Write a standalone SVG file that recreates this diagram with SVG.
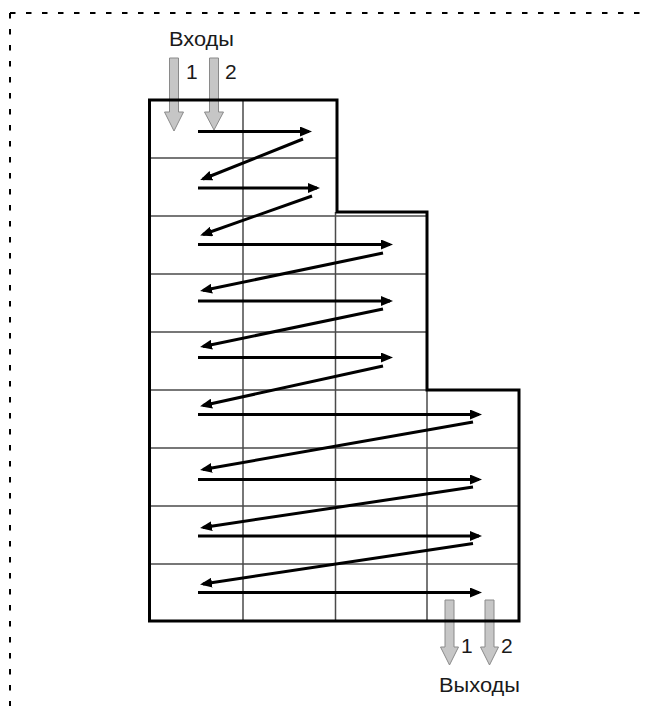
<svg xmlns="http://www.w3.org/2000/svg" width="657" height="706" viewBox="0 0 657 706">
<style>
.frame{fill:none;stroke:#000;stroke-width:2;stroke-dasharray:5.5 10.5}
.grid{fill:none;stroke:#4a4a4a;stroke-width:1.5}
.outline{fill:none;stroke:#000;stroke-width:3;stroke-linejoin:miter}
.flow{fill:none;stroke:#000;stroke-width:3}
.port{fill:#c6c6c6;stroke:#8a8a8a;stroke-width:1}
.lbl{font-family:"Liberation Sans",Arial,sans-serif;fill:#1a1a1a}
.word{font-size:20px}
.num{font-size:21px}
</style>
<defs>
<marker id="ah" markerUnits="userSpaceOnUse" markerWidth="13" markerHeight="10" refX="9" refY="5" orient="auto">
<path d="M0,0 L12,5 L0,10 z" fill="#000"/>
</marker>
</defs>
<rect width="657" height="706" fill="#fff"/>
<g id="frame">
<line class="frame" x1="10" y1="13" x2="648" y2="13"/>
<line class="frame" x1="10" y1="13" x2="10" y2="706"/>
</g>
<g id="vessel">
<g id="grid">
<line class="grid" x1="243" y1="100" x2="243" y2="621"/>
<line class="grid" x1="335.5" y1="212" x2="335.5" y2="621"/>
<line class="grid" x1="427" y1="390" x2="427" y2="621"/>
<line class="grid" x1="149.5" y1="158" x2="337" y2="158"/>
<line class="grid" x1="149.5" y1="216" x2="426" y2="216"/>
<line class="grid" x1="149.5" y1="274" x2="426" y2="274"/>
<line class="grid" x1="149.5" y1="332" x2="426" y2="332"/>
<line class="grid" x1="149.5" y1="390" x2="519" y2="390"/>
<line class="grid" x1="149.5" y1="448" x2="519" y2="448"/>
<line class="grid" x1="149.5" y1="506" x2="519" y2="506"/>
<line class="grid" x1="149.5" y1="564" x2="519" y2="564"/>
</g>
</g>
<g id="inputs">
<path class="port" d="M169.5,58 H178.5 V112 H183.5 L174,131 L164.5,112 H169.5 Z"/>
<path class="port" d="M209.5,58 H218.5 V112 H223.5 L214,130 L204.5,112 H209.5 Z"/>
<text class="lbl word" x="169" y="46" textLength="65" lengthAdjust="spacingAndGlyphs">Входы</text>
<text class="lbl num" x="186" y="79">1</text>
<text class="lbl num" x="225" y="79">2</text>
</g>
<g id="outputs">
<path class="port" d="M445,600 H454 V647 H458.5 L449.5,665 L440.5,647 H445 Z"/>
<path class="port" d="M485,600 H494 V647 H498.5 L489.5,665 L480.5,647 H485 Z"/>
<text class="lbl num" x="461" y="653">1</text>
<text class="lbl num" x="501" y="653">2</text>
<text class="lbl word" x="439" y="692" textLength="81" lengthAdjust="spacingAndGlyphs">Выходы</text>
</g>
<path id="outline" class="outline" d="M149.5,100 H337 V212 H427 V390 H519 V621 H149.5 Z"/>
<g id="connectors">
<line class="flow" x1="198" y1="131.5" x2="309" y2="131.5" marker-end="url(#ah)"/>
<line class="flow" x1="303" y1="139" x2="203" y2="179" marker-end="url(#ah)"/>
<line class="flow" x1="198" y1="188" x2="317" y2="188" marker-end="url(#ah)"/>
<line class="flow" x1="312" y1="196" x2="203" y2="234.5" marker-end="url(#ah)"/>
<line class="flow" x1="198" y1="244.5" x2="390" y2="244.5" marker-end="url(#ah)"/>
<line class="flow" x1="383" y1="253" x2="203" y2="290.5" marker-end="url(#ah)"/>
<line class="flow" x1="198" y1="301" x2="390" y2="301" marker-end="url(#ah)"/>
<line class="flow" x1="383" y1="309" x2="203" y2="346.5" marker-end="url(#ah)"/>
<line class="flow" x1="198" y1="357.5" x2="390" y2="357.5" marker-end="url(#ah)"/>
<line class="flow" x1="383" y1="366" x2="203" y2="405.5" marker-end="url(#ah)"/>
<line class="flow" x1="198" y1="414.5" x2="479" y2="414.5" marker-end="url(#ah)"/>
<line class="flow" x1="473" y1="422" x2="203" y2="469.5" marker-end="url(#ah)"/>
<line class="flow" x1="198" y1="479.5" x2="479" y2="479.5" marker-end="url(#ah)"/>
<line class="flow" x1="473" y1="487" x2="203" y2="527.5" marker-end="url(#ah)"/>
<line class="flow" x1="198" y1="536" x2="479" y2="536" marker-end="url(#ah)"/>
<line class="flow" x1="473" y1="543.5" x2="203" y2="584" marker-end="url(#ah)"/>
<line class="flow" x1="198" y1="592.5" x2="479" y2="592.5" marker-end="url(#ah)"/>
</g>
</svg>
